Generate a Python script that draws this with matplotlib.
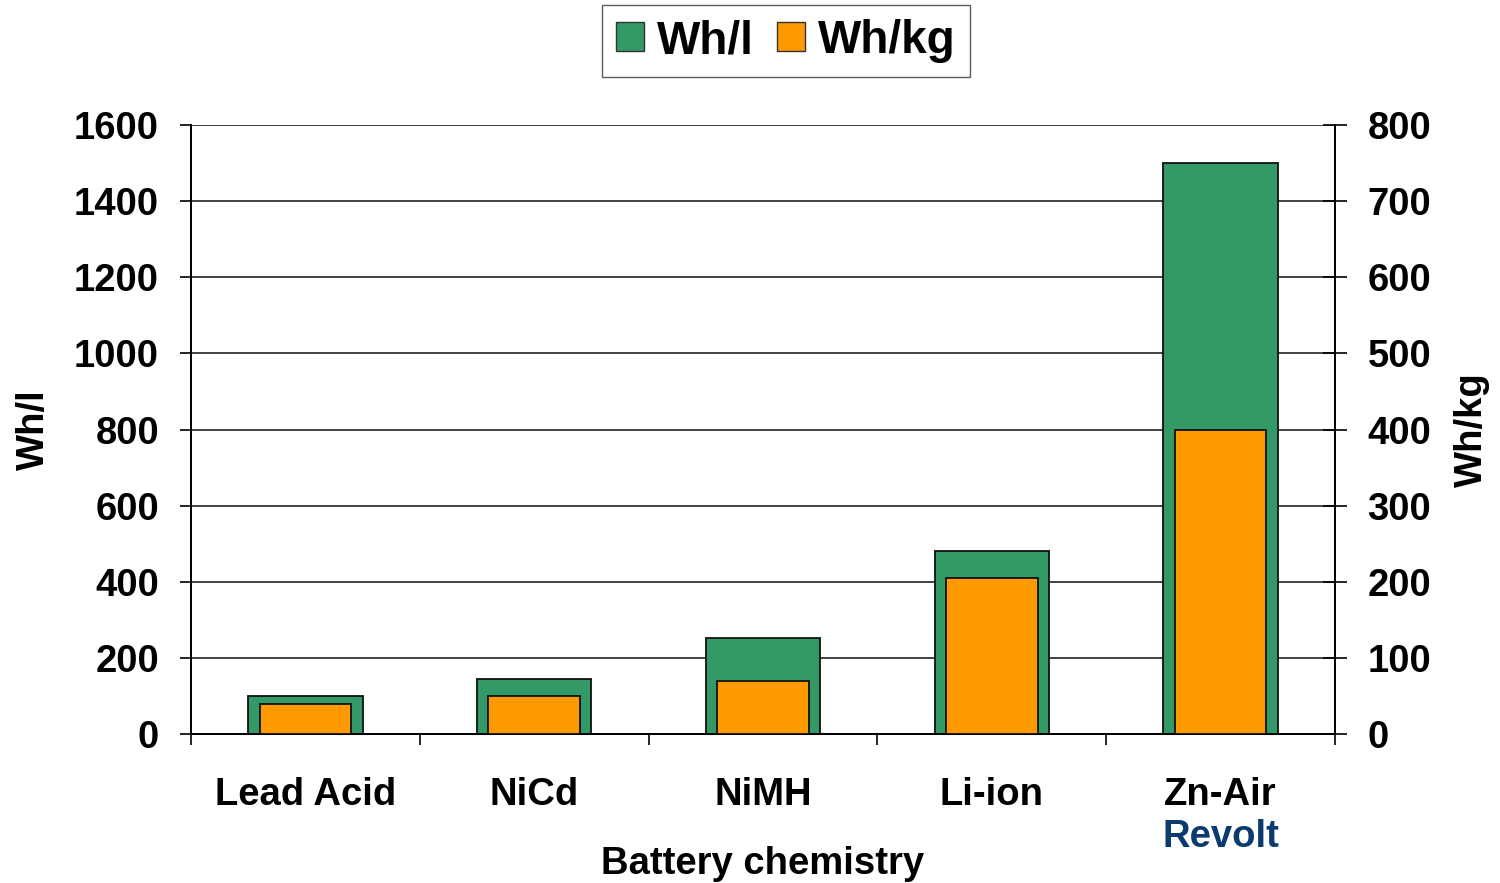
import numpy as np
import matplotlib
matplotlib.use("Agg")
import matplotlib.pyplot as plt
from matplotlib.patches import Patch

plt.rcParams['font.family'] = ['Liberation Sans', 'DejaVu Sans']
plt.rcParams['font.weight'] = 'bold'
plt.rcParams['axes.labelweight'] = 'bold'

categories = ['Lead Acid', 'NiCd', 'NiMH', 'Li-ion', 'Zn-Air']
sublabels = ['', '', '', '', 'Revolt']
wh_per_l = [100, 145, 252, 480, 1500]
wh_per_kg = [40, 50, 70, 205, 400]

green = '#339966'
orange = '#ff9900'
fs = 27.5

fig = plt.figure(figsize=(15, 8.83), dpi=100)
ax = fig.add_axes([0.1273, 0.1687, 0.7627, 0.6897])
x = np.arange(len(categories))

ax.bar(x, wh_per_l, width=0.5, color=green, edgecolor='#111111', linewidth=1.3, zorder=3)
ax.set_xlim(-0.5, 4.5)
ax.set_ylim(0, 1600)
ax.set_yticks(np.arange(0, 1601, 200))
ax.yaxis.grid(True, color='#222222', linewidth=1.2, zorder=0)
ax.set_axisbelow(True)

ax2 = ax.twinx()
ax2.bar(x, wh_per_kg, width=0.4, color=orange, edgecolor='#111111', linewidth=1.3, zorder=3)
ax2.set_ylim(0, 800)
ax2.set_yticks(np.arange(0, 801, 100))

for a in (ax, ax2):
    a.spines['top'].set_visible(False)
    for s in a.spines.values():
        s.set_color('black')
        s.set_linewidth(1.3)

ax.tick_params(axis='y', direction='out', length=8, width=1.2, pad=15, labelsize=fs)
ax2.tick_params(axis='y', direction='inout', length=17, width=1.2, pad=15, labelsize=fs)

# category labels centred, tick marks at the boundaries
ax.set_xticks(x)
ax.set_xticklabels(categories, fontsize=fs)
ax.tick_params(axis='x', which='major', length=0, pad=31)
ax.set_xticks(np.arange(-0.5, 5, 1), minor=True)
ax.tick_params(axis='x', which='minor', direction='out', length=8, width=1.2)

for xi, sub in zip(x, sublabels):
    if sub:
        ax.annotate(sub, xy=(xi, 0), xycoords=('data', 'axes fraction'),
                    xytext=(0, -61), textcoords='offset points',
                    ha='center', va='top', fontsize=fs, fontweight='bold', color='#0b3a6e')

ax.set_xlabel('Battery chemistry', fontsize=fs, labelpad=24)
ax.set_ylabel('Wh/l', fontsize=fs, labelpad=16)
ax2.set_ylabel('Wh/kg', fontsize=fs, labelpad=16)

handles = [Patch(facecolor=green, edgecolor='#333333', label='Wh/l'),
           Patch(facecolor=orange, edgecolor='#333333', label='Wh/kg')]
fig.legend(handles=handles, loc='center', bbox_to_anchor=(786 / 1500, 1 - 41 / 883),
           ncol=2, fontsize=33, frameon=True, fancybox=False, edgecolor='#333333',
           handlelength=0.6, handleheight=0.6, handletextpad=0.3, columnspacing=0.5,
           borderpad=0.3, borderaxespad=0)

fig.savefig('out.png', dpi=100)
